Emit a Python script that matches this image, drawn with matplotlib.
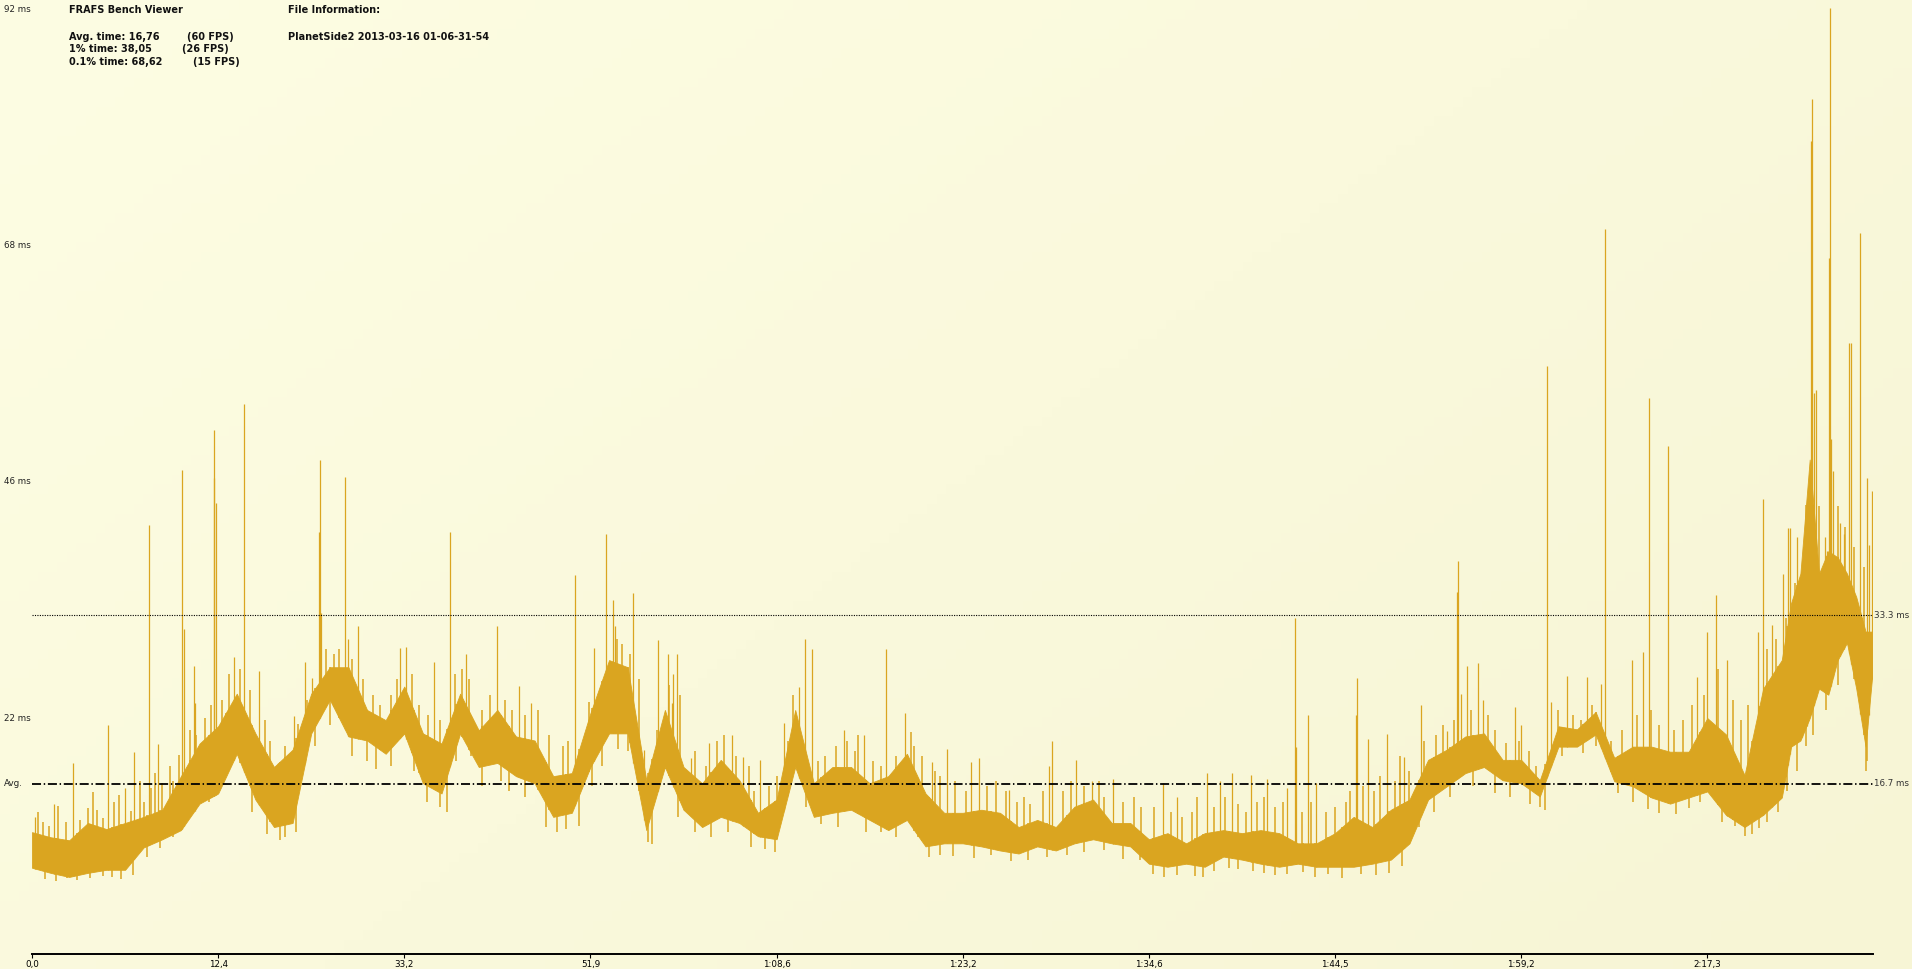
import numpy as np
import matplotlib
matplotlib.use("Agg")
import matplotlib.pyplot as plt
from matplotlib.colors import LinearSegmentedColormap
import matplotlib.transforms as mtransforms

# frame-time band: frame number, lower and upper edge (ms)
frames = [0, 100, 200, 300, 400, 500, 600, 700, 800, 900,
          1000, 1100, 1200, 1300, 1400, 1500, 1600, 1700, 1800, 1900,
          2000, 2100, 2200, 2300, 2400, 2500, 2600, 2700, 2800, 2900,
          3000, 3100, 3200, 3300, 3400, 3500, 3600, 3700, 3800, 3900,
          4000, 4100, 4200, 4300, 4400, 4500, 4600, 4700, 4800, 4900,
          5000, 5100, 5200, 5300, 5400, 5500, 5600, 5700, 5800, 5900,
          6000, 6100, 6200, 6300, 6400, 6500, 6600, 6700, 6800, 6900,
          7000, 7100, 7200, 7300, 7400, 7500, 7600, 7700, 7800, 7900,
          8000, 8100, 8200, 8300, 8400, 8500, 8600, 8700, 8800, 8900,
          9000, 9100, 9200, 9300, 9400, 9450, 9500, 9550, 9600, 9650,
          9700, 9750, 9800, 9850, 9885]
band_lo = [8.5, 8.0, 7.6, 8.0, 8.3, 8.3, 10.5, 11.3, 12.2, 14.8,
           15.8, 19.7, 15.2, 12.5, 12.9, 21.7, 25.0, 21.4, 21.0, 19.7,
           21.7, 16.8, 15.8, 21.7, 18.4, 18.8, 17.5, 16.8, 13.5, 13.9,
           18.4, 21.7, 21.7, 12.2, 18.4, 14.2, 12.5, 13.5, 12.9, 11.6,
           11.3, 18.4, 13.5, 13.9, 14.2, 13.2, 12.2, 13.2, 10.6, 10.9,
           10.9, 10.6, 10.2, 9.9, 10.6, 10.2, 10.9, 11.3, 10.9, 10.6,
           8.9, 8.6, 8.9, 8.6, 9.6, 9.3, 8.9, 8.6, 8.9, 8.6,
           8.6, 8.6, 8.9, 9.3, 10.9, 15.2, 16.5, 17.8, 18.4, 17.1,
           16.8, 15.5, 20.4, 20.4, 21.6, 17.0, 16.5, 15.4, 14.8, 15.4,
           16.0, 13.7, 12.5, 13.7, 15.4, 20.4, 21.0, 23.2, 26.1, 25.5,
           28.9, 30.6, 26.1, 20.4, 27.2]
band_hi = [12.0, 11.5, 11.2, 12.9, 12.3, 12.9, 13.5, 14.2, 17.5, 20.7,
           22.4, 25.6, 21.7, 18.4, 20.1, 25.6, 28.2, 28.2, 24.0, 23.0,
           26.3, 21.7, 20.7, 25.6, 22.0, 24.0, 21.4, 21.0, 17.5, 17.8,
           23.7, 28.9, 28.2, 17.1, 24.0, 18.4, 16.8, 19.1, 17.1, 13.9,
           15.2, 24.0, 16.8, 18.4, 18.4, 16.8, 17.5, 19.7, 15.8, 13.9,
           13.9, 14.2, 13.9, 12.5, 13.2, 12.5, 14.5, 15.2, 12.9, 12.9,
           11.3, 11.9, 10.9, 11.9, 12.2, 11.9, 12.2, 11.9, 10.9, 10.9,
           11.9, 13.5, 12.5, 14.2, 15.2, 19.1, 20.1, 21.4, 21.7, 19.1,
           19.1, 17.1, 22.4, 22.1, 23.8, 19.3, 20.4, 20.4, 19.9, 19.9,
           23.2, 21.6, 17.6, 26.1, 28.9, 34.5, 37.4, 48.6, 37.4, 39.6,
           39.0, 37.4, 35.1, 31.7, 31.7]

# single-frame spikes above the band: frame number, frame time (ms)
spike_frames = [16, 120, 222, 409, 502, 549, 629, 678, 806, 817,
                871, 874, 977, 979, 986, 1084, 1140, 1220, 1322, 1409,
                1467, 1506, 1542, 1547, 1554, 1680, 1698, 1751, 1975, 2011,
                2159, 2245, 2329, 2497, 2616, 2683, 2916, 3018, 3086, 3120,
                3131, 3231, 3290, 3362, 3415, 3439, 3446, 3464, 3502, 3539,
                3639, 3763, 3822, 3913, 4040, 4123, 4151, 4188, 4360, 4467,
                4587, 4689, 4833, 4913, 5047, 5090, 5249, 5466, 5482, 5611,
                5697, 5809, 6078, 6153, 6314, 6384, 6448, 6550, 6637, 6741,
                6787, 6791, 6857, 6900, 7115, 7120, 7179, 7281, 7372, 7464,
                7603, 7657, 7662, 7675, 7710, 7768, 7795, 7968, 8000, 8140,
                8162, 8247, 8355, 8430, 8451, 8596, 8655, 8687, 8789, 8945,
                8999, 9047, 9106, 9274, 9299, 9348, 9408, 9432, 9443, 9484,
                9507, 9533, 9557, 9562, 9573, 9584, 9634, 9643, 9655, 9661,
                9662, 9675, 9713, 9732, 9761, 9773, 9822, 9859, 9866, 9884]
spike_ms = [13.5, 14.8, 18.8, 22.5, 16.3, 19.9, 42.2, 20.7, 47.6, 32.0,
            28.3, 24.7, 51.5, 46.8, 44.3, 29.2, 54.1, 27.8, 18.8, 23.4,
            28.7, 27.1, 41.5, 48.6, 33.5, 46.9, 31.0, 32.2, 30.1, 30.2,
            28.7, 41.5, 29.5, 32.2, 26.4, 24.7, 37.3, 30.1, 41.3, 34.8,
            32.2, 35.5, 20.1, 30.9, 29.5, 24.7, 27.5, 29.5, 17.9, 19.3,
            20.8, 21.5, 19.4, 19.1, 22.7, 26.3, 31.0, 30.0, 22.0, 21.5,
            30.0, 23.7, 18.9, 20.2, 18.9, 19.3, 16.1, 18.5, 21.0, 19.1,
            17.0, 17.2, 16.8, 15.5, 17.8, 17.0, 17.8, 17.6, 17.2, 16.3,
            33.0, 20.4, 23.5, 16.8, 23.5, 27.1, 21.1, 21.6, 19.4, 24.5,
            21.9, 35.6, 38.6, 25.6, 28.3, 28.6, 25.0, 24.3, 22.5, 57.8,
            24.8, 27.3, 27.2, 26.6, 71.2, 28.9, 29.7, 54.6, 49.9, 27.2,
            31.7, 35.3, 28.9, 31.7, 44.7, 32.3, 37.4, 41.9, 41.9, 41.0,
            35.1, 44.0, 79.9, 84.0, 55.1, 55.4, 41.0, 39.6, 68.4, 93.0,
            50.6, 47.5, 42.4, 41.3, 60.0, 60.0, 70.9, 46.8, 40.2, 45.5]

# smaller bumps along the top of the band (frame, ms)
bump_frames = [30, 60, 90, 140, 180, 260, 300, 330, 350, 380, 440, 470, 530,
               580, 600, 640, 660, 700, 740, 760, 790, 850, 880, 930, 960,
               1020, 1060, 1120, 1170, 1250, 1280, 1360, 1430, 1480, 1580,
               1620, 1650, 1720, 1780, 1830, 1870, 1930, 1960, 2040, 2080,
               2130, 2190, 2270, 2310, 2350, 2420, 2460, 2540, 2580, 2650,
               2720, 2780, 2850, 2880, 2960, 2990, 3050, 3140, 3170, 3210,
               3260, 3360, 3420, 3480, 3560, 3620, 3680, 3720, 3780, 3850,
               3880, 3960, 4000, 4060, 4090, 4220, 4260, 4320, 4380, 4420,
               4440, 4520, 4560, 4640, 4720, 4740, 4780, 4850, 4880, 4960,
               5020, 5130, 5180, 5230, 5290, 5330, 5360, 5430, 5540, 5580,
               5650, 5730, 5760, 5860, 5920, 5960, 6030, 6120, 6180, 6230,
               6260, 6350, 6410, 6480, 6520, 6580, 6620, 6680, 6720, 6820,
               6870, 6950, 7000, 7060, 7080, 7150, 7210, 7240, 7320, 7350,
               7400, 7480, 7540, 7580, 7640, 7730, 7820, 7860, 7920, 7990,
               8040, 8080, 8200, 8280, 8320, 8380, 8480, 8540, 8620, 8700,
               8740, 8820, 8870, 8920, 8980, 9060, 9140, 9180, 9220, 9320,
               9370, 9420, 9470, 9520, 9600, 9700, 9740, 9790, 9840]
bump_ms = [14.0, 13.0, 12.6, 14.6, 13.0, 13.2, 14.4, 15.9, 14.2, 13.4, 15.0,
           15.6, 14.1, 17.0, 15.0, 16.3, 17.8, 16.8, 18.5, 17.0, 19.6, 22.0,
           21.5, 23.2, 24.5, 25.0, 27.5, 28.0, 26.0, 23.0, 21.0, 20.5, 22.6,
           25.0, 30.0, 29.5, 30.0, 29.0, 27.0, 25.5, 24.5, 25.5, 27.0, 27.5,
           24.5, 23.5, 23.0, 27.5, 28.0, 27.0, 24.0, 25.5, 25.0, 24.0, 23.5,
           24.0, 21.5, 20.5, 21.0, 20.5, 24.8, 26.0, 31.0, 30.5, 29.5, 27.0,
           22.0, 26.5, 25.5, 20.0, 18.5, 21.0, 21.5, 19.5, 18.5, 16.0, 16.5,
           17.5, 21.0, 25.5, 19.0, 19.5, 20.5, 21.0, 20.0, 21.5, 19.0, 18.5,
           19.5, 21.8, 20.5, 19.5, 18.0, 17.5, 17.0, 16.0, 16.5, 17.0, 16.0,
           15.0, 15.5, 14.8, 16.0, 16.0, 17.0, 16.5, 17.0, 15.5, 15.0, 15.5,
           14.5, 14.5, 14.0, 13.5, 14.0, 15.5, 14.5, 15.5, 14.8, 14.0, 15.0,
           15.5, 14.5, 15.0, 14.0, 15.0, 14.0, 14.5, 15.0, 16.0, 16.5, 16.0,
           17.5, 17.0, 19.5, 18.0, 21.0, 21.5, 22.5, 23.0, 24.0, 23.5, 22.0,
           20.8, 21.0, 20.0, 18.5, 24.0, 23.5, 23.0, 24.5, 21.0, 22.0, 23.5,
           24.0, 22.5, 22.0, 23.0, 24.5, 25.5, 28.0, 25.0, 23.0, 24.5, 30.0,
           31.0, 33.0, 36.5, 40.0, 44.0, 44.0, 42.0, 40.0, 38.0]

# short dips below the band (frame, ms)
dip_frames = [70, 130, 190, 240, 310, 380, 430, 480, 540, 620, 690, 760, 850,
              950, 1040, 1180, 1260, 1330, 1360, 1420, 1520, 1600, 1720, 1800,
              1850, 1930, 2050, 2120, 2190, 2230, 2280, 2360, 2420, 2520,
              2560, 2650, 2760, 2820, 2870, 2940, 3010, 3060, 3150, 3200,
              3310, 3330, 3470, 3560, 3650, 3740, 3860, 3940, 3990, 4160,
              4240, 4330, 4480, 4560, 4640, 4760, 4820, 4880, 4950, 5060,
              5150, 5260, 5350, 5450, 5560, 5650, 5760, 5860, 5950, 6020,
              6080, 6150, 6250, 6290, 6350, 6430, 6480, 6560, 6620, 6680,
              6740, 6830, 6890, 6960, 7040, 7140, 7220, 7290, 7360, 7450,
              7530, 7620, 7740, 7860, 7940, 8050, 8100, 8130, 8220, 8330,
              8400, 8520, 8600, 8680, 8740, 8830, 8900, 8960, 9080, 9150,
              9200, 9240, 9280, 9320, 9380, 9430, 9480, 9530, 9570, 9640,
              9700, 9790, 9830, 9850, 9860]
dip_ms = [7.4, 7.2, 7.5, 7.3, 7.5, 7.7, 7.6, 7.4, 7.8, 9.6, 10.4, 11.5, 13.8,
          15.0, 18.2, 14.0, 11.8, 11.2, 11.5, 12.0, 20.5, 22.5, 19.5, 19.0,
          18.2, 18.5, 18.0, 15.0, 14.5, 14.0, 19.0, 19.5, 16.5, 17.0, 16.0,
          15.5, 12.5, 12.0, 12.3, 12.6, 16.5, 18.5, 20.2, 20.0, 11.0, 10.8,
          13.5, 12.0, 11.5, 12.0, 10.5, 10.3, 10.0, 14.5, 12.8, 12.5, 12.0,
          12.0, 11.5, 11.5, 9.6, 9.8, 9.7, 9.5, 9.8, 9.2, 9.3, 9.6, 9.8, 10.0,
          10.2, 9.4, 9.3, 7.9, 7.6, 7.8, 7.7, 7.6, 8.2, 8.5, 8.4, 8.2, 8.0,
          7.8, 7.9, 8.1, 7.6, 7.9, 7.5, 7.9, 7.8, 8.0, 8.7, 12.5, 14.0, 15.5,
          16.5, 15.8, 15.5, 14.8, 14.5, 14.2, 19.5, 19.8, 20.5, 15.8, 15.0,
          14.3, 13.9, 13.8, 14.4, 15.0, 13.0, 12.6, 11.6, 11.8, 12.4, 13.0,
          14.0, 16.0, 18.0, 20.5, 21.5, 24.0, 26.5, 28.0, 24.0, 18.0, 19.0]

# x axis: a tick every 1000 frames, labelled with elapsed time
xtick_frames = [0, 1000, 2000, 3000, 4000, 5000, 6000, 7000, 8000, 9000]
xtick_labels = ["0,0", "12,4", "33,2", "51,9", "1:08,6", "1:23,2",
                "1:34,6", "1:44,5", "1:59,2", "2:17,3"]
ylabels = ["22 ms", "46 ms", "68 ms", "92 ms"]

avg_ms = 16.76
fps30_ms = 33.3
ymax = 93.74
xmax = 9890
trace_color = "#DAA520"

W, H = 1912, 969
fig = plt.figure(figsize=(W / 100, H / 100), dpi=100)

# pale yellow gradient background
bg = fig.add_axes([0, 0, 1, 1], zorder=-10)
gx, gy = np.meshgrid(np.linspace(0, 1, 200), np.linspace(0, 1, 100))
cmap = LinearSegmentedColormap.from_list("bg", ["#FDFDE3", "#F7F5D5"])
bg.imshow(gx * 0.6 + gy * 0.4, cmap=cmap, aspect="auto", extent=[0, 1, 1, 0])
bg.axis("off")

ax = fig.add_axes([32 / W, (H - 954.3) / H, 1841 / W, 954.3 / H])
ax.patch.set_alpha(0)
ax.set_xlim(0, xmax)
ax.set_ylim(0, ymax)

frames_a = np.array(frames, dtype=float)
lo = np.array(band_lo)
hi = np.array(band_hi)
ax.fill_between(frames_a, lo, hi, color=trace_color, lw=0.6, edgecolor=trace_color)

# bumps and spikes rise from the band, dips hang from it
ax.vlines(bump_frames, np.interp(bump_frames, frames_a, lo), bump_ms,
          color=trace_color, lw=1.1)
ax.vlines(dip_frames, dip_ms, np.interp(dip_frames, frames_a, hi),
          color=trace_color, lw=1.1)
ax.vlines(spike_frames, np.interp(spike_frames, frames_a, lo), spike_ms,
          color=trace_color, lw=0.9)

# 30 fps and average lines
ax.axhline(fps30_ms, color="black", lw=0.8, ls=(0, (1, 1.2)))
ax.axhline(avg_ms, color="black", lw=1.3, ls=(0, (5, 1.5, 0.8, 1.5)))

for s in ["left", "right", "top"]:
    ax.spines[s].set_visible(False)
ax.spines["bottom"].set_linewidth(1.4)
ax.set_yticks([])
ax.set_xticks(xtick_frames)
ax.set_xticklabels(xtick_labels, fontsize=6.3)
ax.tick_params(axis="x", direction="out", length=3, width=0.8, pad=1)

# y labels sit at quarter heights of the axis
trans = mtransforms.blended_transform_factory(fig.transFigure, ax.transData)
for k, lab in enumerate(ylabels):
    ax.text(4 / W, ymax * 0.99 * (k + 1) / 4, lab, transform=trans,
            fontsize=6.3, va="center", ha="left", color="#222222")
ax.text(4 / W, avg_ms, "Avg.", transform=trans, fontsize=6.3, va="center",
        ha="left", color="#222222")
ax.text(1874 / W, fps30_ms, "33.3 ms", transform=trans, fontsize=6.3,
        va="center", ha="left", color="#333333")
ax.text(1874 / W, avg_ms, "16.7 ms", transform=trans, fontsize=6.3,
        va="center", ha="left", color="#333333")

# header text
def ftxt(x, y, s):
    fig.text(x / W, 1 - y / H, s, fontsize=7, fontweight="bold",
             va="center", ha="left", color="#111111")

ftxt(69, 10, "FRAFS Bench Viewer")
ftxt(69, 37, "Avg. time: 16,76")
ftxt(69, 49.5, "1% time: 38,05")
ftxt(69, 62, "0.1% time: 68,62")
ftxt(187, 37, "(60 FPS)")
ftxt(182, 49.5, "(26 FPS)")
ftxt(193, 62, "(15 FPS)")
ftxt(288, 10, "File Information:")
ftxt(288, 37, "PlanetSide2 2013-03-16 01-06-31-54")

fig.savefig("out.png", dpi=100)
